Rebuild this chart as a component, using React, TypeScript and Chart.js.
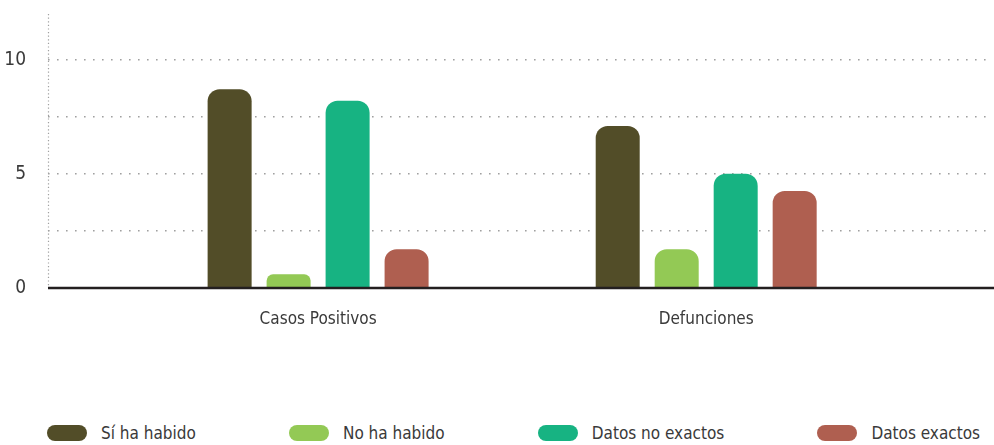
import React, { useEffect, useRef } from "react";
import { Chart, registerables } from "chart.js";

Chart.register(...registerables);

const categories = ["Casos Positivos", "Defunciones"];
const seriesNames = ["Sí ha habido", "No ha habido", "Datos no exactos", "Datos exactos"];
const siHaHabido = [8.7, 7.1];
const noHaHabido = [0.6, 1.7];
const datosNoExactos = [8.2, 5.0];
const datosExactos = [1.7, 4.25];
const yGridTicks = [0, 2.5, 5, 7.5, 10];
const yLabeledTicks = [0, 5, 10];
const seriesColors = ["#524d28", "#93c955", "#17b382", "#af5f50"];

const FONT = "'DejaVu Sans Condensed', 'Liberation Sans Narrow', sans-serif";
const TEXT = "#3a3a3a";

const axisLines = {
  id: "axisLines",
  afterDraw(chart: any) {
    const { ctx, chartArea, width } = chart;
    ctx.save();
    ctx.strokeStyle = "#a0a0a0";
    ctx.lineWidth = 1.2;
    ctx.setLineDash([1.2, 2.4]);
    ctx.beginPath();
    ctx.moveTo(chartArea.left + 0.5, chartArea.top);
    ctx.lineTo(chartArea.left + 0.5, chartArea.bottom);
    ctx.stroke();
    ctx.setLineDash([]);
    ctx.strokeStyle = "#231f20";
    ctx.lineWidth = 2.5;
    ctx.beginPath();
    ctx.moveTo(chartArea.left, chartArea.bottom);
    ctx.lineTo(width, chartArea.bottom);
    ctx.stroke();
    ctx.restore();
  },
};

export default function App() {
  const ref = useRef<HTMLCanvasElement | null>(null);

  useEffect(() => {
    if (!ref.current) return;
    const allSeries = [siHaHabido, noHaHabido, datosNoExactos, datosExactos];
    const chart = new Chart(ref.current, {
      type: "bar",
      data: {
        datasets: allSeries.map((vals, s) => ({
          label: seriesNames[s],
          data: categories.map((_, i) => ({ x: i, y: vals[i] })),
          backgroundColor: seriesColors[s],
          borderRadius: { topLeft: 12, topRight: 12, bottomLeft: 0, bottomRight: 0 },
          borderSkipped: false,
          categoryPercentage: 0.608,
          barPercentage: 0.746,
        })),
      },
      options: {
        animation: false,
        responsive: false,
        maintainAspectRatio: false,
        layout: { padding: { top: 14, right: 8, left: 0, bottom: 0 } },
        plugins: { legend: { display: false }, tooltip: { enabled: false } },
        scales: {
          x: {
            type: "linear",
            offset: false,
            min: -0.696,
            max: 1.721,
            afterBuildTicks: (s: any) => {
              s.ticks = categories.map((_, i) => ({ value: i }));
            },
            afterFit: (s: any) => {
              s.height = 57;
              s.paddingLeft = 0;
              s.paddingRight = 0;
            },
            ticks: {
              callback: (v: any) => categories[v] ?? "",
              autoSkip: false,
              maxRotation: 0,
              padding: 21,
              color: TEXT,
              font: { family: FONT, size: 17 },
            },
            grid: { display: false, drawTicks: false, offset: false },
            border: { display: false },
          },
          y: {
            min: 0,
            max: 12,
            afterBuildTicks: (s: any) => {
              s.ticks = yGridTicks.map((v) => ({ value: v }));
            },
            afterFit: (s: any) => {
              s.width = 48;
              s.paddingTop = 0;
              s.paddingBottom = 0;
            },
            ticks: {
              callback: (v: any) => (yLabeledTicks.includes(v) ? String(v) : ""),
              padding: 22,
              color: TEXT,
              font: { family: FONT, size: 19 },
            },
            grid: {
              drawTicks: false,
              lineWidth: 1.6,
              color: (c: any) => (c.tick && c.tick.value === 0 ? "rgba(0,0,0,0)" : "#a0a0a0"),
            },
            border: { display: false, dash: [1.6, 7.4] },
          },
        },
      },
      plugins: [axisLines],
    } as any);
    return () => chart.destroy();
  }, []);

  return (
    <div style={{ position: "absolute", left: 0, top: 0, width: 994, height: 445, background: "#fff" }}>
      <canvas ref={ref} width={994} height={345} style={{ display: "block", width: 994, height: 345 }} />
      <div
        style={{
          position: "absolute",
          left: 47,
          right: 14,
          top: 423,
          height: 20,
          display: "flex",
          justifyContent: "space-between",
          alignItems: "center",
          fontFamily: FONT,
          fontSize: 17,
          color: TEXT,
        }}
      >
        {seriesNames.map((name, i) => (
          <div key={name} style={{ display: "flex", alignItems: "center", whiteSpace: "nowrap" }}>
            <span
              style={{
                display: "inline-block",
                width: 40,
                height: 16,
                borderRadius: 8,
                background: seriesColors[i],
                marginRight: 14,
              }}
            />
            <span style={{ lineHeight: "20px" }}>{name}</span>
          </div>
        ))}
      </div>
    </div>
  );
}
